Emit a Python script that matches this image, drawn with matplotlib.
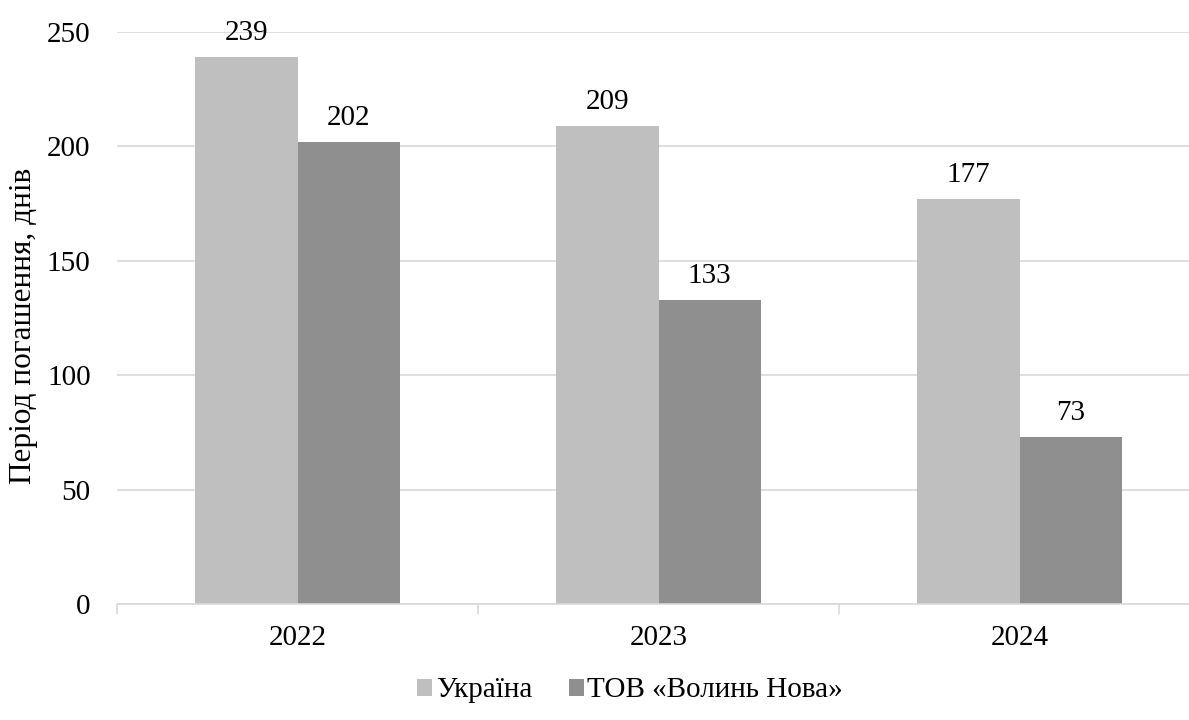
from matplotlib import pyplot as plt
import numpy as np

years = ['2022', '2023', '2024']
ukraine = [239, 209, 177]
volyn = [202, 133, 73]
series_names = ['Україна', 'ТОВ «Волинь Нова»']
y_label = 'Період погашення, днів'

plt.rcParams['font.family'] = ['Liberation Serif', 'DejaVu Serif']

fig = plt.figure(figsize=(11.89, 7.2), dpi=100)
ax = fig.add_axes([117 / 1189, 116 / 720, 1083 / 1189, 572 / 720])

x = np.arange(len(years))
w = 0.283
grid_c = '#d9d9d9'
fs = 21

b1 = ax.bar(x - w / 2, ukraine, w, color='#bfbfbf', label=series_names[0], zorder=2)
b2 = ax.bar(x + w / 2, volyn, w, color='#8f8f8f', label=series_names[1], zorder=2)

for bars, vals in ((b1, ukraine), (b2, volyn)):
    for rect, v in zip(bars, vals):
        ax.annotate(str(v), (rect.get_x() + rect.get_width() / 2, v),
                    xytext=(0, 8), textcoords='offset points',
                    ha='center', va='bottom', fontsize=fs)

ax.set_xlim(-0.5, 2.5)
ax.set_ylim(0, 250)
ax.set_yticks(np.arange(0, 251, 50))
ax.set_xticks(x)
ax.set_xticklabels(years)
ax.set_xticks(np.arange(-0.5, 2.6, 1), minor=True)
ax.tick_params(axis='x', which='major', length=0, pad=15, labelsize=fs)
ax.tick_params(axis='x', which='minor', length=7, color=grid_c, width=1.2)
ax.tick_params(axis='y', length=0, pad=19, labelsize=fs)
ax.yaxis.grid(True, color=grid_c, linewidth=1.2, zorder=0)
ax.set_axisbelow(True)

for s in ('top', 'right', 'left'):
    ax.spines[s].set_visible(False)
ax.spines['bottom'].set_color(grid_c)
ax.spines['bottom'].set_linewidth(1.2)

ax.set_ylabel(y_label, fontsize=22.5)
ax.yaxis.set_label_coords(-0.073, 0.486)

fig.legend(handles=[b1, b2], labels=series_names, loc='center', bbox_to_anchor=(0.530, 0.041),
           ncol=2, frameon=False, fontsize=fs, handlelength=0.52, handleheight=0.52,
           handletextpad=0.12, columnspacing=1.25)

fig.savefig('out.png', dpi=100)
